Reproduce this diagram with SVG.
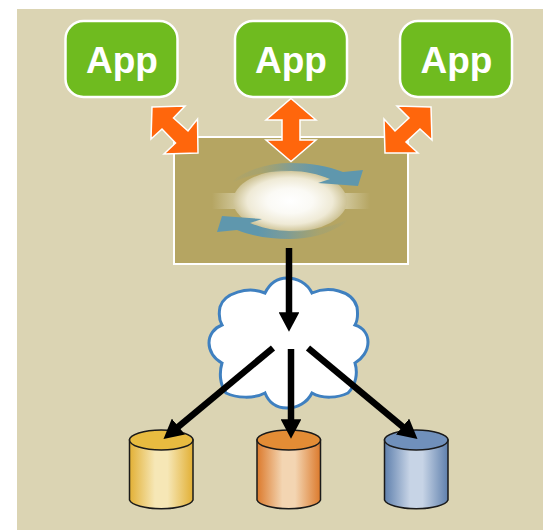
<svg xmlns="http://www.w3.org/2000/svg" width="543" height="530" viewBox="0 0 543 530">
<style>
.app{fill:#6fbb1f;stroke:#fff;stroke-width:2.500}
.lbl{font:bold 37px "Liberation Sans",Arial,sans-serif;fill:#fff;text-anchor:middle}
.cyl{stroke:#1a1a1a;stroke-width:1.500}
.dbl{fill:#ff660c;stroke:#fff;stroke-width:1.500}
.flow{stroke:#000;stroke-width:6.500;fill:none;marker-end:url(#head)}
</style>
<defs>
<marker id="head" markerUnits="strokeWidth" markerWidth="3.200" markerHeight="3.200" refX="0.1" refY="1.6" orient="auto"><path d="M0,0L3,1.6L0,3.200Z" fill="#000"/></marker>
<linearGradient id="gy"><stop offset="0" stop-color="#e2b035"/><stop offset=".4" stop-color="#f6e7b6"/><stop offset=".6" stop-color="#f6e7b6"/><stop offset="1" stop-color="#e2b035"/></linearGradient>
<linearGradient id="go"><stop offset="0" stop-color="#dc7a2c"/><stop offset=".4" stop-color="#f3d5b2"/><stop offset=".6" stop-color="#f3d5b2"/><stop offset="1" stop-color="#dc7a2c"/></linearGradient>
<linearGradient id="gb"><stop offset="0" stop-color="#5f80ad"/><stop offset=".4" stop-color="#c7d4e6"/><stop offset=".6" stop-color="#c7d4e6"/><stop offset="1" stop-color="#5f80ad"/></linearGradient>
<radialGradient id="glow"><stop offset="0" stop-color="#fff"/><stop offset=".4" stop-color="#fbfaf5"/><stop offset=".75" stop-color="#efead6"/><stop offset="1" stop-color="#cdc294"/></radialGradient>
<linearGradient id="band"><stop offset="0" stop-color="#d8d0aa" stop-opacity="0"/><stop offset=".2" stop-color="#d8d0aa"/><stop offset=".8" stop-color="#d8d0aa"/><stop offset="1" stop-color="#d8d0aa" stop-opacity="0"/></linearGradient>
<linearGradient id="swirl" gradientUnits="userSpaceOnUse" x1="232" y1="0" x2="345" y2="0"><stop offset="0" stop-color="#5f97ad" stop-opacity="0"/><stop offset=".25" stop-color="#8a9e86" stop-opacity=".3"/><stop offset=".55" stop-color="#7c9c98"/><stop offset=".8" stop-color="#5f97ad"/></linearGradient>
<path id="sw" fill="url(#swirl)" d="M232,181C250,168 270,163 291,163C310,163 328,166 343,172L363,170L358,186L318,183L330,179C318,174 305,171 291,171C268,171 248,175 234,182Z"/>
</defs>
<rect x="17" y="9" width="526" height="521" fill="#dbd4b3"/>
<g id="app1"><rect class="app" x="65.500" y="21" width="112" height="76" rx="18"/><text class="lbl" x="122" y="73">App</text></g>
<g id="app2"><rect class="app" x="235" y="21" width="112" height="76" rx="18"/><text class="lbl" x="291" y="73">App</text></g>
<g id="app3"><rect class="app" x="400" y="21" width="112" height="76" rx="18"/><text class="lbl" x="456.500" y="73">App</text></g>
<g id="hub">
<rect x="174" y="137" width="234" height="127" fill="#b5a562" stroke="#fff" stroke-width="2"/>
<rect x="212" y="193" width="158" height="16" fill="url(#band)"/>
<ellipse cx="290" cy="201" rx="57" ry="31" fill="url(#glow)"/>
<use href="#sw"/>
<use href="#sw" transform="rotate(180 290 201)"/>
</g>
<g id="cloud"><path fill="#fff" stroke="#3f80c0" stroke-width="3" d="M265,293C270,283 278,278 287,278C297,278 307,283 312,293C328,286 352,290 357,307C358,314 358,320 355,325C364,328 368,335 368,342C368,351 362,359 355,363C358,373 356,385 348,393C338,398 322,399 312,393C307,403 297,408 287,408C277,408 269,403 265,393C254,399 236,398 226,393C220,385 219,373 222,363C214,359 209,351 209,343C209,335 214,328 222,325C218,318 219,312 220,307C224,293 248,286 265,293Z"/></g>
<g id="db1"><path class="cyl" fill="url(#gy)" d="M129.500,440V500A32,10 0 0 0 193,500V440Z"/><ellipse class="cyl" fill="#e8bb40" cx="161.250" cy="440" rx="31.750" ry="10"/></g>
<g id="db2"><path class="cyl" fill="url(#go)" d="M257,440V500A32,10 0 0 0 320.500,500V440Z"/><ellipse class="cyl" fill="#e38c35" cx="288.750" cy="440" rx="31.750" ry="10"/></g>
<g id="db3"><path class="cyl" fill="url(#gb)" d="M384.500,440V500A32,10 0 0 0 448,500V440Z"/><ellipse class="cyl" fill="#7090bb" cx="416.250" cy="440" rx="31.750" ry="10"/></g>
<g id="connectors">
<polygon class="dbl" points="152,107 185,106 173.500,118 188,131 197.500,119 198,153 164,154 175.500,143 162,129 151,139"/>
<polygon class="dbl" points="291,98.500 316,120 300,120 300,140 316,140 291,161.500 266,140 282,140 282,120 266,120"/>
<polygon class="dbl" points="431,107 397,106 409,118 395,131 384,119 385,153 418,153 406,142 420,129 432,140"/>
<line class="flow" x1="289" y1="248" x2="289" y2="313"/>
<line class="flow" x1="273" y1="348" x2="178" y2="427"/>
<line class="flow" x1="291" y1="349" x2="291" y2="420"/>
<line class="flow" x1="308" y1="348" x2="403" y2="427"/>
</g>
</svg>
